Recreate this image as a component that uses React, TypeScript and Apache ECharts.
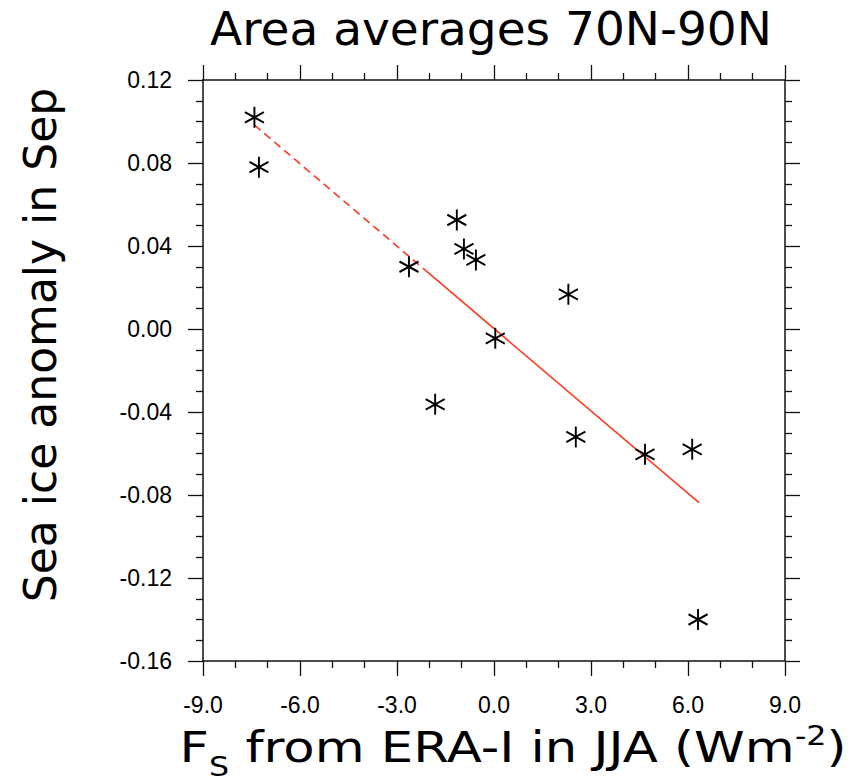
import React, { useEffect, useRef } from "react";
import * as echarts from "echarts";

const fluxX = [-7.41, -7.27, -2.63, -1.15, -0.93, -0.56, 0.04, 2.3, -1.82, 2.53, 4.67, 6.13, 6.31];
const iceY = [0.102, 0.078, 0.03, 0.0525, 0.0386, 0.0333, -0.0045, 0.0167, -0.0363, -0.052, -0.0604, -0.058, -0.14];
const fitDashed = [[-7.41, 0.0983], [-2.1, 0.028]];
const fitSolid = [[-2.1, 0.028], [6.34, -0.0837]];
const xRange = [-9, 9];
const yRange = [-0.16, 0.12];
const titleText = "Area averages 70N-90N";
const yTitle = "Sea ice anomaly in Sep";
// x title pieces: [text, kind]
const xTitleParts: [string, string][] = [
  ["F", "m"],
  ["S", "sub"],
  [" from ERA-I in JJA (Wm", "m"],
  ["-2", "sup"],
  [")", "m"],
];

const STAR = "path://M0,-1L0,1M-0.866,-0.5L0.866,0.5M-0.866,0.5L0.866,-0.5";
const TITLE_FONT = "DejaVu Sans";

export default function App() {
  const ref = useRef<HTMLDivElement>(null);
  useEffect(() => {
    if (!ref.current) return;
    const chart = echarts.init(ref.current, null, { renderer: "svg" });
    const grid = { left: 203, top: 80, width: 582, height: 581 };
    const axisLine = { show: true, lineStyle: { color: "#111", width: 1.5 } };
    const labelStyle = {
      fontFamily: "Liberation Sans",
      fontSize: 23,
      color: "#000",
    };
    const tick = { show: true, inside: false, length: 15, lineStyle: { color: "#111", width: 1.3 } };
    const xBase = (pos: string, showLabel: boolean) => ({
      type: "value",
      position: pos,
      min: xRange[0],
      max: xRange[1],
      interval: 3,
      axisLine: { ...axisLine, onZero: false },
      axisTick: tick,
      minorTick: { show: true, splitNumber: 3, length: 7, lineStyle: { color: "#111", width: 1.3 } },
      splitLine: { show: false },
      minorSplitLine: { show: false },
      axisLabel: {
        show: showLabel,
        margin: 32,
        ...labelStyle,
        formatter: (v: number) => v.toFixed(1),
      },
    });
    const yBase = (pos: string, showLabel: boolean) => ({
      type: "value",
      position: pos,
      min: yRange[0],
      max: yRange[1],
      interval: 0.04,
      axisLine: { ...axisLine, onZero: false },
      axisTick: tick,
      minorTick: { show: true, splitNumber: 4, length: 7, lineStyle: { color: "#111", width: 1.3 } },
      splitLine: { show: false },
      minorSplitLine: { show: false },
      axisLabel: {
        show: showLabel,
        margin: 31,
        ...labelStyle,
        formatter: (v: number) => v.toFixed(2),
      },
    });

    // build x-axis title from measured pieces
    const ctx = document.createElement("canvas").getContext("2d")!;
    const sizes: Record<string, number> = { m: 42, sub: 26, sup: 26 };
    const ys: Record<string, number> = { m: 748, sub: 767, sup: 736 };
    const widths = xTitleParts.map(([t, k]) => {
      ctx.font = `${sizes[k]}px "${TITLE_FONT}"`;
      return ctx.measureText(t).width;
    });
    const total = widths.reduce((a, b) => a + b, 0);
    let cursor = -total / 2;
    const pieces = xTitleParts.map(([t, k], i) => {
      const el = {
        type: "text",
        x: cursor,
        y: ys[k],
        style: {
          text: t,
          fontFamily: TITLE_FONT,
          fontSize: sizes[k],
          fill: "#000",
          align: "left",
          verticalAlign: "middle",
        },
      };
      cursor += widths[i];
      return el;
    });

    chart.setOption({
      animation: false,
      backgroundColor: "#fff",
      grid,
      xAxis: [xBase("bottom", true), xBase("top", false)],
      yAxis: [yBase("left", true), yBase("right", false)],
      graphic: [
        {
          type: "text",
          x: 491,
          y: 28,
          style: {
            text: titleText,
            fontFamily: TITLE_FONT,
            fontSize: 47,
            fill: "#000",
            align: "center",
            verticalAlign: "middle",
          },
        },
        {
          type: "text",
          x: 40,
          y: 345,
          rotation: Math.PI / 2,
          style: {
            text: yTitle,
            fontFamily: TITLE_FONT,
            fontSize: 44,
            fill: "#000",
            align: "center",
            verticalAlign: "middle",
          },
        },
        {
          type: "group",
          x: 513,
          y: 0,
          scaleX: 1.22,
          children: pieces,
        },
      ],
      series: [
        {
          type: "line",
          data: fitDashed,
          symbol: "none",
          lineStyle: { color: "#ff3a1f", width: 1.6, type: [8, 5] },
          z: 2,
        },
        {
          type: "line",
          data: fitSolid,
          symbol: "none",
          lineStyle: { color: "#ff3a1f", width: 1.6 },
          z: 2,
        },
        {
          type: "scatter",
          data: fluxX.map((x, i) => [x, iceY[i]]),
          symbol: STAR,
          symbolSize: [19, 21],
          itemStyle: { color: "none", borderColor: "#000", borderWidth: 2, opacity: 1 },
          z: 3,
        },
      ],
    });
    return () => chart.dispose();
  }, []);
  return (
    <div
      ref={ref}
      style={{ position: "fixed", left: 0, top: 0, width: 848, height: 783 }}
    />
  );
}
